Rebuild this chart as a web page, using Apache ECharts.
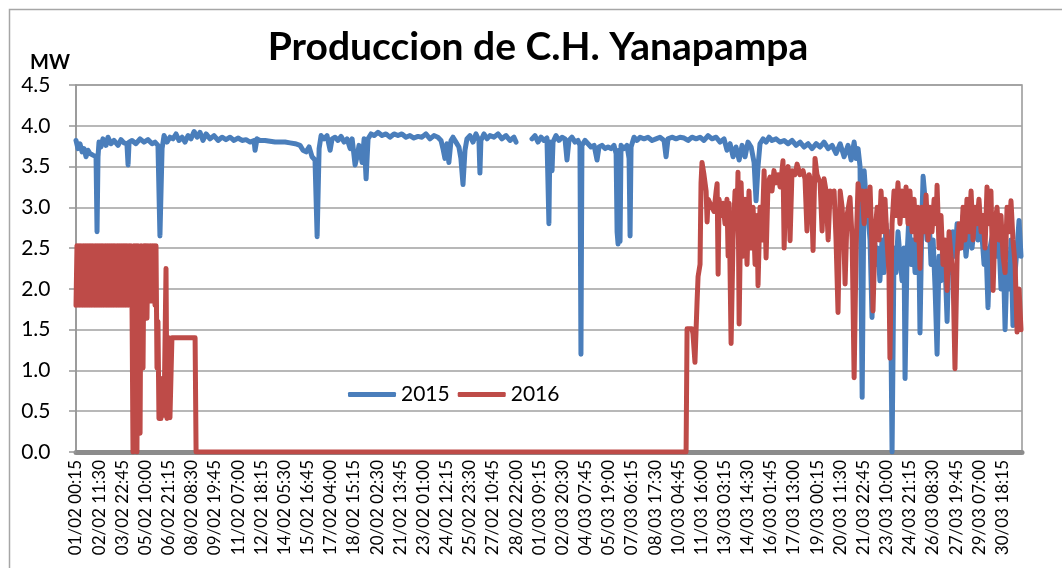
<!DOCTYPE html>
<html>
	<head>
		<meta charset="utf-8" />
		<title>Produccion de C.H. Yanapampa</title>
		<script src="https://cdn.jsdelivr.net/npm/echarts/dist/echarts.min.js"></script>
		<style>
			html, body { margin: 0; padding: 0; background: #fff; }
		</style>
	</head>
	<body>
		<div id="demo1" style="width: 1062px;height: 568px;"></div>
		<script type="text/javascript">
			// eje x: indice de intervalos de 15 min (01/02 00:15 = 0), 60 dias
			var totalPoints = 5760;
			var labelStep = 141;
			var tickLabels = ['01/02 00:15','02/02 11:30','03/02 22:45','05/02 10:00','06/02 21:15','08/02 08:30','09/02 19:45','11/02 07:00','12/02 18:15','14/02 05:30','15/02 16:45','17/02 04:00','18/02 15:15','20/02 02:30','21/02 13:45','23/02 01:00','24/02 12:15','25/02 23:30','27/02 10:45','28/02 22:00','01/03 09:15','02/03 20:30','04/03 07:45','05/03 19:00','07/03 06:15','08/03 17:30','10/03 04:45','11/03 16:00','13/03 03:15','14/03 14:30','16/03 01:45','17/03 13:00','19/03 00:15','20/03 11:30','21/03 22:45','23/03 10:00','24/03 21:15','26/03 08:30','27/03 19:45','29/03 07:00','30/03 18:15'];

			// [indice, MW]
			var serie2015 = [[0,3.82],[12,3.72],[24,3.78],[37,3.68],[49,3.72],[61,3.62],[73,3.70],[85,3.66],[103,3.64],[122,3.62],[128,2.70],[134,3.62],[140,3.80],[152,3.74],[164,3.84],[183,3.76],[195,3.86],[213,3.78],[231,3.82],[256,3.76],[274,3.83],[292,3.79],[310,3.78],[317,3.52],[323,3.80],[341,3.82],[365,3.78],[390,3.84],[414,3.80],[438,3.83],[463,3.78],[481,3.80],[499,3.76],[511,2.65],[524,3.72],[536,3.88],[554,3.80],[572,3.86],[591,3.84],[609,3.90],[627,3.82],[646,3.86],[664,3.80],[682,3.88],[700,3.84],[719,3.93],[737,3.86],[755,3.92],[773,3.82],[792,3.90],[816,3.84],[840,3.88],[865,3.82],[889,3.86],[913,3.83],[938,3.86],[962,3.82],[986,3.85],[1011,3.82],[1035,3.83],[1060,3.80],[1084,3.82],[1090,3.70],[1102,3.84],[1120,3.82],[1151,3.82],[1181,3.81],[1212,3.80],[1242,3.80],[1273,3.80],[1303,3.79],[1334,3.78],[1364,3.76],[1382,3.70],[1401,3.68],[1419,3.74],[1437,3.62],[1455,3.58],[1468,2.64],[1480,3.72],[1492,3.88],[1510,3.84],[1528,3.88],[1547,3.70],[1559,3.84],[1577,3.86],[1595,3.82],[1614,3.87],[1632,3.80],[1650,3.84],[1669,3.72],[1681,3.84],[1699,3.52],[1711,3.62],[1723,3.76],[1742,3.55],[1754,3.84],[1766,3.35],[1778,3.84],[1796,3.90],[1815,3.88],[1838,3.92],[1863,3.88],[1887,3.90],[1911,3.86],[1936,3.90],[1960,3.88],[1984,3.90],[2009,3.86],[2033,3.88],[2057,3.85],[2082,3.87],[2106,3.86],[2130,3.90],[2155,3.84],[2179,3.88],[2203,3.86],[2222,3.82],[2234,3.72],[2246,3.60],[2258,3.78],[2270,3.55],[2283,3.82],[2295,3.86],[2313,3.80],[2331,3.74],[2343,3.60],[2356,3.28],[2368,3.70],[2380,3.84],[2398,3.88],[2417,3.80],[2435,3.90],[2453,3.82],[2459,3.42],[2465,3.82],[2484,3.90],[2502,3.84],[2520,3.88],[2545,3.86],[2569,3.90],[2593,3.84],[2618,3.88],[2642,3.82],[2666,3.86],[2679,3.80],[2720,null],[2776,3.84],[2794,3.88],[2812,3.80],[2831,3.86],[2849,3.82],[2867,3.85],[2879,2.80],[2885,3.80],[2898,3.45],[2904,3.80],[2922,3.88],[2940,3.82],[2959,3.86],[2977,3.84],[2989,3.58],[3001,3.82],[3019,3.86],[3038,3.80],[3056,3.82],[3068,3.76],[3074,1.20],[3080,3.76],[3099,3.82],[3117,3.78],[3135,3.74],[3154,3.76],[3172,3.58],[3184,3.74],[3202,3.76],[3221,3.72],[3239,3.74],[3257,3.72],[3275,3.76],[3288,3.66],[3294,2.70],[3300,2.55],[3306,3.70],[3312,2.58],[3318,3.76],[3336,3.72],[3354,3.76],[3367,3.60],[3373,2.65],[3379,3.74],[3397,3.86],[3415,3.82],[3434,3.86],[3458,3.84],[3482,3.86],[3507,3.82],[3531,3.84],[3555,3.86],[3580,3.82],[3592,3.62],[3604,3.84],[3628,3.86],[3653,3.84],[3677,3.86],[3702,3.85],[3726,3.82],[3750,3.86],[3775,3.84],[3799,3.86],[3823,3.82],[3848,3.88],[3872,3.84],[3897,3.86],[3921,3.80],[3945,3.84],[3963,3.70],[3982,3.78],[4000,3.62],[4018,3.74],[4037,3.58],[4055,3.76],[4073,3.62],[4091,3.80],[4110,3.74],[4128,3.55],[4140,3.08],[4152,3.50],[4164,3.78],[4183,3.84],[4201,3.80],[4219,3.86],[4237,3.82],[4262,3.84],[4286,3.80],[4311,3.82],[4335,3.78],[4359,3.82],[4384,3.76],[4408,3.80],[4432,3.74],[4457,3.78],[4481,3.72],[4506,3.78],[4530,3.74],[4554,3.80],[4579,3.72],[4603,3.76],[4627,3.66],[4652,3.78],[4676,3.62],[4700,3.76],[4719,3.58],[4737,3.80],[4749,3.60],[4761,3.72],[4773,3.50],[4786,0.67],[4798,3.45],[4810,3.10],[4822,2.90],[4834,2.60],[4846,1.65],[4859,2.70],[4870,2.30],[4882,2.50],[4894,2.10],[4907,2.60],[4919,2.20],[4931,2.80],[4943,2.40],[4955,2.70],[4968,0.00],[4980,2.50],[4992,2.20],[5004,2.70],[5016,2.40],[5029,2.10],[5041,2.50],[5047,0.90],[5059,2.40],[5071,2.90],[5083,2.30],[5096,2.60],[5108,2.20],[5120,2.80],[5132,2.40],[5138,1.46],[5150,2.90],[5157,3.38],[5169,3.10],[5181,2.60],[5193,2.90],[5205,2.30],[5218,2.60],[5230,2.00],[5242,1.20],[5254,2.40],[5266,2.10],[5278,2.60],[5291,2.30],[5303,1.60],[5315,2.50],[5327,2.20],[5339,2.70],[5351,2.40],[5364,2.80],[5382,2.50],[5400,2.90],[5418,2.40],[5437,2.80],[5455,2.50],[5473,2.90],[5491,2.60],[5510,2.80],[5528,2.30],[5540,2.50],[5552,1.77],[5564,2.50],[5583,2.70],[5601,2.40],[5619,2.60],[5631,2.00],[5644,2.50],[5656,1.50],[5668,2.30],[5680,2.00],[5692,2.60],[5704,1.55],[5717,2.20],[5729,2.50],[5741,2.84],[5753,2.40]];

			var serie2016 = [[0,1.80],[6,2.53],[12,1.80],[18,2.53],[24,1.80],[30,2.53],[37,1.80],[43,2.53],[49,1.80],[55,2.53],[61,1.80],[67,2.53],[73,1.80],[79,2.53],[85,1.80],[91,2.53],[97,1.80],[103,2.53],[110,1.80],[116,2.53],[122,1.80],[128,2.53],[134,1.80],[140,2.53],[146,1.80],[152,2.53],[158,1.80],[164,2.53],[170,1.80],[177,2.53],[183,1.80],[189,2.53],[195,1.80],[201,2.53],[207,1.80],[213,2.53],[219,1.80],[225,2.53],[231,1.80],[237,2.53],[244,1.80],[250,2.53],[256,1.80],[262,2.53],[268,1.80],[274,2.53],[280,1.80],[286,2.53],[292,1.80],[298,2.53],[304,1.80],[310,2.53],[317,1.80],[323,2.53],[329,1.80],[335,2.53],[341,1.80],[347,0.00],[353,2.53],[359,0.30],[365,2.53],[371,0.00],[377,2.53],[384,1.80],[390,0.23],[396,2.53],[402,1.90],[408,1.03],[414,2.53],[420,1.80],[426,2.53],[432,1.64],[438,2.53],[444,1.90],[451,2.53],[457,1.85],[463,2.53],[469,1.90],[475,2.53],[481,1.80],[487,2.53],[493,1.03],[499,1.60],[505,0.41],[511,0.80],[517,0.41],[524,0.90],[536,0.45],[548,2.25],[554,0.41],[566,1.40],[572,0.42],[584,1.40],[725,1.40],[731,0.00],[3714,0.00],[3720,1.51],[3750,1.51],[3756,1.45],[3768,1.10],[3775,1.50],[3781,1.85],[3787,2.15],[3799,2.30],[3805,3.30],[3811,3.55],[3823,3.40],[3836,3.20],[3842,2.82],[3848,3.10],[3860,3.05],[3872,3.00],[3884,2.95],[3897,3.20],[3903,3.29],[3909,2.18],[3915,3.10],[3927,2.90],[3939,3.05],[3951,2.80],[3963,3.10],[3970,2.40],[3976,3.05],[3988,1.33],[4000,2.60],[4012,3.20],[4024,2.80],[4030,3.43],[4037,1.57],[4049,3.30],[4061,2.40],[4073,3.10],[4085,2.30],[4097,3.20],[4110,2.50],[4122,3.00],[4134,2.30],[4146,2.90],[4152,2.04],[4164,3.00],[4176,2.60],[4189,3.45],[4201,2.38],[4213,3.30],[4225,3.37],[4237,3.20],[4249,3.45],[4262,3.30],[4274,3.40],[4286,3.25],[4298,3.45],[4304,3.57],[4311,2.50],[4323,3.40],[4335,3.50],[4347,2.59],[4359,3.45],[4377,3.40],[4390,3.53],[4408,3.40],[4426,3.45],[4438,3.35],[4450,2.71],[4463,3.40],[4475,3.30],[4487,2.47],[4499,3.60],[4511,3.40],[4530,3.30],[4542,2.71],[4554,3.35],[4566,3.20],[4579,2.60],[4591,3.20],[4603,3.10],[4615,3.20],[4627,2.60],[4639,1.71],[4652,3.20],[4664,3.00],[4676,2.50],[4682,2.06],[4694,2.90],[4712,3.12],[4725,2.60],[4737,0.91],[4749,2.50],[4761,3.29],[4773,3.10],[4786,3.20],[4798,2.80],[4810,3.20],[4822,2.90],[4834,3.25],[4846,2.50],[4852,1.73],[4865,2.70],[4877,3.00],[4889,2.60],[4901,3.20],[4913,2.70],[4925,3.10],[4937,2.60],[4949,2.20],[4955,1.15],[4968,2.80],[4980,3.20],[4992,2.90],[5004,3.30],[5016,2.80],[5029,3.20],[5041,2.90],[5053,3.25],[5065,2.80],[5077,3.20],[5090,2.70],[5102,3.10],[5114,2.60],[5126,3.00],[5138,2.25],[5150,3.00],[5163,2.70],[5175,3.15],[5187,2.60],[5199,3.00],[5211,2.70],[5224,3.10],[5236,2.80],[5242,3.27],[5254,2.50],[5266,2.90],[5278,2.30],[5291,2.60],[5303,1.98],[5315,2.70],[5327,2.40],[5339,2.20],[5351,1.02],[5364,2.40],[5376,2.80],[5388,2.50],[5400,3.00],[5412,2.60],[5424,3.10],[5437,2.70],[5449,3.20],[5461,2.60],[5473,3.00],[5485,2.80],[5497,3.10],[5510,2.70],[5522,2.90],[5534,2.50],[5546,3.25],[5558,2.80],[5570,3.20],[5583,1.98],[5595,2.80],[5607,3.00],[5619,2.60],[5631,2.90],[5644,2.40],[5656,2.20],[5668,3.00],[5680,2.70],[5692,3.08],[5704,2.60],[5717,2.30],[5729,1.47],[5741,2.00],[5753,1.50]];

			var fontName = 'Lato, "Open Sans", sans-serif';
			var myChart = echarts.init(document.getElementById('demo1'));
			myChart.setOption({
				animation: false,
				backgroundColor: '#fff',
				graphic: [
					{ type: 'rect', shape: { x: 9.5, y: 9.5, width: 1100, height: 600 }, style: { fill: 'none', stroke: '#a6a6a6', lineWidth: 1.5 }, silent: true },
					{ type: 'text', x: 538, y: 47, style: { text: 'Produccion de C.H. Yanapampa', font: 'bold 39px ' + fontName, fill: '#000', textAlign: 'center', textVerticalAlign: 'middle' } },
					{ type: 'text', x: 50, y: 63, style: { text: 'MW', font: 'bold 20px ' + fontName, fill: '#000', textAlign: 'center', textVerticalAlign: 'middle' } }
				],
				legend: {
					left: 343,
					top: 379,
					itemWidth: 48,
					itemHeight: 5,
					itemGap: 8,
					icon: 'roundRect',
					textStyle: { fontFamily: fontName, fontSize: 21, color: '#000' },
					data: ['2015', '2016']
				},
				grid: {
					left: 76, right: 40, top: 85, bottom: 116,
					outerBoundsMode: 'none',
					show: true,
					borderColor: '#969696',
					borderWidth: 1.5
				},
				xAxis: {
					type: 'value',
					min: 0,
					max: totalPoints - 1,
					interval: labelStep,
					offset: 2,
					axisLine: { lineStyle: { color: '#8c8c8c', width: 5 } },
					axisTick: { show: false },
					splitLine: { show: false },
					axisLabel: {
						rotate: 90,
						margin: 6,
						fontFamily: fontName,
						fontSize: 17,
						color: '#000',
						formatter: function (v) {
							if (v % labelStep !== 0) return '';
							return tickLabels[v / labelStep] || '';
						}
					}
				},
				yAxis: {
					type: 'value',
					min: 0,
					max: 4.5,
					interval: 0.5,
					axisLine: { show: true, lineStyle: { color: '#969696', width: 1.5 } },
					axisTick: { show: true, length: 7, lineStyle: { color: '#969696', width: 1.5 } },
					splitLine: { lineStyle: { color: '#a0a0a0', width: 1.5 } },
					axisLabel: {
						margin: 4,
						fontFamily: fontName,
						fontSize: 21,
						color: '#000',
						// espacios finales para separar la etiqueta del eje
						formatter: function (v) { return v.toFixed(1) + '    '; }
					}
				},
				series: [{
					name: '2015',
					type: 'line',
					symbol: 'none',
					connectNulls: false,
					color: '#4A7EBB',
					lineStyle: { width: 5, color: '#4A7EBB', join: 'round', cap: 'round' },
					data: serie2015
				}, {
					name: '2016',
					type: 'line',
					symbol: 'none',
					color: '#BE4B48',
					lineStyle: { width: 5, color: '#BE4B48', join: 'round', cap: 'round' },
					data: serie2016
				}]
			});
		</script>
	</body>
</html>
